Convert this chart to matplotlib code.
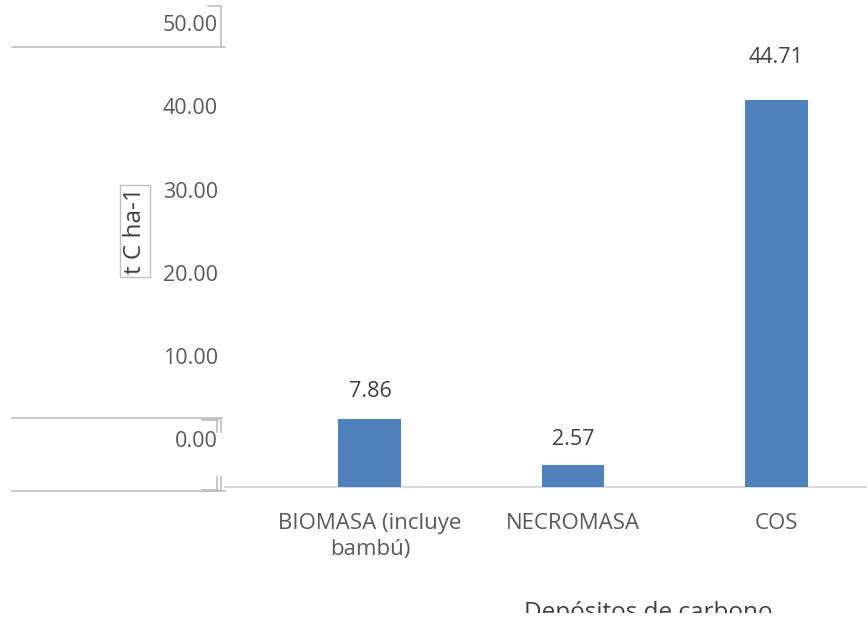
import numpy as np
import matplotlib
matplotlib.use('Agg')
import matplotlib.pyplot as plt
from matplotlib.lines import Line2D
from matplotlib.patches import Rectangle

plt.rcParams['font.family'] = ['Open Sans', 'DejaVu Sans']

#%% data
categorias = ['BIOMASA (incluye\nbambú)', 'NECROMASA', 'COS']
carbono = [7.86, 2.57, 44.71]
ticks_y = [0, 10, 20, 30, 40, 50]
ticks_lbl = ['0.00', '10.00', '20.00', '30.00', '40.00', '50.00']

W, H = 867, 621
fig = plt.figure(figsize=(W / 100, H / 100), dpi=100)

def rect(x0, y0, x1, y1):
    # pixel box (top-left origin) -> figure fraction
    return [x0 / W, 1 - y1 / H, (x1 - x0) / W, (y1 - y0) / H]

def lims(y0_px, px_per_unit, top=0, bottom=487):
    # value limits for a layer whose zero sits at y0_px
    return ((y0_px - bottom) / px_per_unit, (y0_px - top) / px_per_unit)

gris = '#595959'
azul = '#4f81bd'
x = np.arange(len(categorias))
xlim = (-0.714, 2.448)

#%% bars
ax = fig.add_axes(rect(225, 0, 867, 487))
ax.bar(x, carbono, width=0.31, color=azul, zorder=3)
ax.set_xlim(*xlim)
ax.set_ylim(0, 487 / 8.656)
ax.set_xticks(x)
ax.set_xticklabels(categorias, fontsize=16, color=gris, linespacing=1.3)
ax.tick_params(axis='x', length=0, pad=19)
ax.set_yticks([])
for s in ['top', 'right', 'left']:
    ax.spines[s].set_visible(False)
ax.spines['bottom'].set_color('#d9d9d9')
ax.spines['bottom'].set_linewidth(1.5)

#%% data labels (own layer)
ax3 = fig.add_axes(rect(225, 0, 867, 487), frameon=False)
ax3.set_xlim(*xlim)
ax3.set_ylim(*lims(462.5, 9.065))
for xi, v in zip(x, carbono):
    ax3.text(xi, v, f'{v:.2f}', ha='center', va='center', fontsize=15.5,
             color='#404040')
ax3.set_xticks([])
ax3.set_yticks([])
ax3.patch.set_visible(False)

#%% value axis labels (own layer)
ax2 = fig.add_axes(rect(225, 0, 867, 487), frameon=False)
ax2.set_ylim(*lims(438.6, 8.303))
ax2.set_yticks(ticks_y)
ax2.set_yticklabels(ticks_lbl, fontsize=15.5, color=gris)
ax2.tick_params(axis='y', length=0, pad=5)
ax2.set_xticks([])
ax2.patch.set_visible(False)

#%% axis titles
fig.text(135 / W, 1 - 231 / H, 't C ha-1', rotation=90, ha='center', va='center',
         fontsize=17.5, color='#404040',
         bbox=dict(boxstyle='square,pad=0.12', fc='white', ec='#bfbfbf', lw=1))
fig.text(648 / W, 1 - 619 / H, 'Depósitos de carbono', ha='center', va='baseline',
         fontsize=17.5, color='#404040')
# lower strip hides the bottom of the title
fig.add_artist(Rectangle((0, 0), 1, 8 / H, transform=fig.transFigure,
                         fc='white', ec='none', zorder=10))

#%% leftover frame lines on the left
def seg(xs, ys, lw=1.2):
    fig.add_artist(Line2D([v / W for v in xs], [1 - v / H for v in ys],
                          color='#bfbfbf', lw=lw))

seg([12, 225], [47, 47])
seg([221, 221], [6, 47])
seg([208, 221], [6, 6])
seg([12, 222], [418, 418])
seg([202, 217], [419, 419], lw=2)
seg([217, 217], [418, 432])
seg([221, 221], [418, 432])
seg([12, 225], [491, 491])
seg([202, 217], [490, 490], lw=2)
seg([217, 217], [477, 491])
seg([221, 221], [477, 491])

fig.savefig('out.png', dpi=100)
